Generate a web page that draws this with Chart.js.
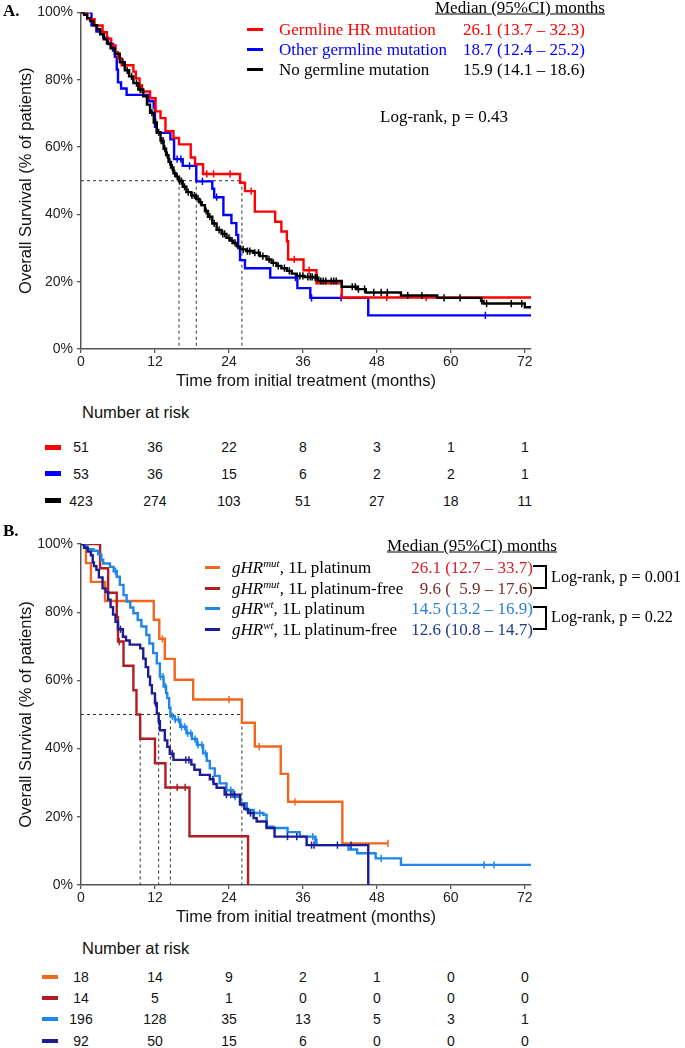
<!DOCTYPE html>
<html><head><meta charset="utf-8">
<script src="https://cdn.jsdelivr.net/npm/chart.js@4.4.1/dist/chart.umd.min.js"></script>
<style>
html,body{margin:0;padding:0;background:#fff;}
#wrap{position:relative;width:685px;height:1048px;overflow:hidden;background:#fff;}
canvas{position:absolute;left:0;}
.t{position:absolute;white-space:pre;line-height:1;}
.serif{font-family:"Liberation Serif","Times New Roman",serif;font-size:17px;color:#000;}
.sans{font-family:"Liberation Sans",Arial,sans-serif;color:#111;}
.sup{font-size:11px;position:relative;top:-6px;font-style:italic;}
</style></head>
<body><div id="wrap">
<canvas id="cA" width="685" height="399" style="top:0px"></canvas>
<canvas id="cB" width="685" height="415" style="top:520px"></canvas>
</div>
<script>
// ---------- data ----------
const xTicks = [0, 12, 24, 36, 48, 60, 72];
const yTicks = [0, 20, 40, 60, 80, 100];
const riskTimes = [0, 12, 24, 36, 48, 60, 72];

// Panel A
const labelsA = ['Germline HR mutation', 'Other germline mutation', 'No germline mutation'];
const mediansA = [26.1, 18.7, 15.9];
const mediansTextA = ['26.1 (13.7 \u2013 32.3)', '18.7 (12.4 \u2013 25.2)', '15.9 (14.1 \u2013 18.6)'];
const colorsA = ['#ff0000', '#0000ff', '#000000'];
const pA = 'Log-rank, p = 0.43';

const aRedT = [0,1.0,2.2,3.5,4.2,4.9,5.6,6.0,6.6,8.5,8.9,9.5,9.9,11.2,12.1,12.9,13.7,15.0,15.9,17.8,18.5,19.8,25.8,26.6,28.2,31.5,32.5,33.4,33.6,36.1,38.2,42.3,73];
const aRedS = [100,98.0,96.1,94.1,92.2,90.2,88.2,86.3,84.3,82.4,80.4,78.4,76.5,74.5,70.6,68.6,64.7,62.7,60.8,56.9,54.9,52.0,49.4,46.9,40.8,37.8,34.9,32.0,26.6,23.4,19.5,15.3,15.3];
const aRedC = [20.4,21.5,24.2,27.6,34.6,37.0,49.6,56.0];

const aBlueT = [0,1.7,2.5,3.6,4.4,5.2,5.5,5.8,6.0,6.5,7.4,11.0,11.8,12.0,12.3,14.5,15.1,16.5,18.7,21.3,21.6,23.1,24.4,25.2,25.5,25.8,26.6,30.7,35.1,37.2,46.6,73];
const aBlueS = [100,96.2,94.3,92.5,90.6,88.7,86.8,83.0,79.2,77.4,75.5,73.6,71.7,66.0,64.2,62.3,56.4,54.4,49.8,47.6,45.1,39.8,37.4,33.9,30.0,26.4,24.0,21.2,18.1,15.2,10.0,10.0];
const aBlueC = [15.6,16.2,17.6,19.7,22.0,34.8,37.4,42.2,65.6];

const aBlackT = [0,0.5,1.0,1.5,2.0,2.6,3.1,3.7,4.2,4.8,5.5,6.3,7.1,7.8,8.5,9.3,10.1,10.7,11.2,11.8,12.3,12.9,13.4,13.8,14.2,14.6,15.0,15.4,15.9,16.5,17.1,17.9,18.7,19.2,19.6,20.1,20.6,21.3,22.0,22.8,23.6,24.2,24.7,25.3,25.8,26.8,27.9,29.0,30.1,30.9,31.7,32.5,33.4,34.2,35.0,36.3,37.7,38.5,42.3,44.8,46.2,51.9,57.8,64.9,65.3,72.0,73];
const aBlackS = [100,99.3,98.3,97.4,96.2,95.0,93.5,92.0,90.8,89.3,87.7,85.2,82.8,81.0,79.0,77.1,75.1,72.6,70.2,67.3,64.4,61.9,59.5,57.6,55.6,53.9,52.2,51.2,49.9,48.2,46.6,45.6,44.6,43.6,42.7,41.0,39.3,37.3,35.4,34.2,33.0,32.2,31.5,30.5,29.6,29.1,28.6,27.6,26.6,25.6,24.7,24.0,23.2,22.4,21.7,21.4,21.2,20.2,18.5,17.8,16.8,15.9,15.2,14.3,13.5,12.4,12.4];
const aBlackC = [6.8,7.5,8.2,9.0,9.6,11.5,12.1,12.6,13.0,13.3,13.6,14.0,14.4,14.8,15.2,15.6,16.0,16.3,16.8,17.4,18.0,18.4,19.0,19.4,20.3,20.9,21.6,22.4,23.0,23.3,24.0,24.5,25.0,26.3,27.0,27.4,28.2,28.8,29.5,30.5,31.2,32.0,33.0,33.8,35.5,36.0,36.8,37.2,37.5,38.0,38.3,38.9,39.3,39.7,40.6,41.0,41.4,44.0,44.5,45.0,46.0,47.5,48.7,49.7,53.0,55.3,58.9,61.5,65.0,65.8,69.8,71.5];

const riskA = [[51,36,22,8,3,1,1],[53,36,15,6,2,2,1],[423,274,103,51,27,18,11]];

// Panel B
const groupB = ['mut', 'mut', 'wt', 'wt'];
const regimenB = ['1L platinum', '1L platinum-free', '1L platinum', '1L platinum-free'];
const mediansB = [26.1, 9.6, 14.5, 12.6];
const mediansTextB = ['26.1 (12.7 \u2013 33.7)', '9.6 (  5.9 \u2013 17.6)', '14.5 (13.2 \u2013 16.9)', '12.6 (10.8 \u2013 14.7)'];
const colorsB = ['#f0671f', '#b11d22', '#2087e8', '#1c1c94'];
const medColorsB = ['#d41f26', '#7d2a25', '#2a80d2', '#1f3a88'];
const pB = ['Log-rank, p = 0.001', 'Log-rank, p = 0.22'];

const bOrT = [0,0.8,1.6,3.9,11.8,12.7,13.6,15.2,18.2,26.1,28.2,32.4,33.6,42.4,49.8];
const bOrS = [100,94.4,88.9,83.3,77.8,72.2,66.3,60.2,54.4,47.6,40.6,32.6,24.4,12.2,12.2];
const bOrC = [13.2,24.0,28.9,34.7,49.8];

const bDrT = [0,3.1,4.4,5.8,6.0,6.9,8.5,9.0,9.6,12.0,13.7,17.6,27.1];
const bDrS = [100,92.9,85.7,78.6,71.4,64.3,57.1,50.0,42.9,35.7,28.6,14.3,0];
const bDrC = [6.2,15.6,16.9];

const bLbT = [0,0.6,1.0,2.0,2.8,3.3,3.6,4.7,5.3,5.8,6.3,6.9,7.4,8.0,8.5,9.2,9.8,10.6,11.1,11.7,12.3,12.8,13.4,13.8,14.0,14.3,14.5,15.2,16.1,17.1,18.0,18.8,19.8,20.4,20.9,21.7,22.5,23.6,24.7,25.8,26.9,28.0,29.6,30.1,31.2,33.5,35.5,38.0,38.2,43.4,44.8,47.8,51.9,73];
const bLbS = [100,99.5,98.5,98.0,96.9,95.4,94.3,93.3,92.0,90.4,88.0,85.0,83.1,81.4,79.7,77.7,75.8,73.3,70.8,68.0,65.0,61.1,58.2,56.3,54.8,52.0,49.5,48.5,46.4,44.5,42.8,41.1,38.6,36.4,34.2,32.0,29.8,27.8,25.9,24.0,22.0,21.1,20.6,17.1,16.7,15.5,14.2,13.2,11.7,10.4,9.3,7.8,5.9,5.9];
const bLbC = [5.6,12.9,13.3,13.7,14.8,15.3,15.8,16.3,16.8,17.3,17.8,18.5,19.0,19.6,20.2,24.3,25.0,28.0,29.0,37.6,38.1,48.7,65.4,67.0];

const bNvT = [0,0.5,1.1,1.6,1.9,2.1,2.5,2.9,3.5,4.0,4.4,4.8,5.2,5.6,6.0,6.8,7.3,7.9,9.6,10.1,10.5,10.9,11.2,11.5,12.0,12.3,12.6,12.8,13.6,14.0,14.4,15.0,17.9,18.4,19.3,20.9,21.5,22.0,23.3,25.8,26.5,27.1,28.0,28.5,30.1,31.4,36.6,46.6];
const bNvS = [100,98.9,97.8,96.7,94.6,93.5,92.4,90.2,87.0,85.9,83.7,81.5,79.3,77.2,75.0,72.8,71.7,70.5,69.4,66.4,63.9,61.1,58.6,56.2,53.3,50.3,48.0,45.4,42.4,40.5,38.5,36.7,35.3,33.8,32.3,31.0,29.6,28.5,26.5,23.6,22.3,21.1,19.6,18.6,16.7,14.2,11.7,0];
const bNvC = [6.4,12.1,12.6,14.8,17.0,17.5,21.4,23.6,24.3,24.9,27.5,33.5,35.0,37.4,37.8,41.6,43.8];

const riskB = [[18,14,9,2,1,0,0],[14,5,1,0,0,0,0],[196,128,35,13,5,3,1],[92,50,15,6,0,0,0]];

// ---------- helpers ----------
const SANS = '"Liberation Sans", Arial, sans-serif';
function stepPts(T, S) { return T.map((t, i) => ({x: t, y: S[i]})); }
function survAt(T, S, t) { let v = S[0]; for (let i = 0; i < T.length; i++) { if (T[i] <= t) v = S[i]; else break; } return v; }
function censPts(T, S, C) { return C.map(t => ({x: t, y: survAt(T, S, t)})); }

function makeChart(id, curves, meds, padTop) {
  const ds = [];
  curves.forEach(c => {
    ds.push({data: censPts(c.T, c.S, c.C), showLine: false, pointStyle: 'line', pointRadius: 3.6,
      pointRotation: 90, pointBorderWidth: 1.5, pointBorderColor: c.color, borderColor: c.color});
    ds.push({data: stepPts(c.T, c.S), stepped: 'before', borderColor: c.color, borderWidth: 2.4,
      pointRadius: 0, fill: false});
  });
  const mMax = Math.max(...meds);
  const dash = {borderColor: '#333', borderWidth: 1, borderDash: [3, 3], pointRadius: 0, fill: false};
  ds.push(Object.assign({data: [{x: 0, y: 50}, {x: mMax, y: 50}]}, dash));
  meds.forEach(m => ds.push(Object.assign({data: [{x: m, y: 50}, {x: m, y: 0}]}, dash)));
  return new Chart(document.getElementById(id), {
    type: 'line',
    data: {datasets: ds},
    options: {
      responsive: false, animation: false, devicePixelRatio: 1, events: [],
      layout: {padding: {top: padTop, right: 154, left: 0, bottom: 0}},
      plugins: {legend: {display: false}, tooltip: {enabled: false}},
      scales: {
        x: {type: 'linear', min: 0, max: 73,
          afterBuildTicks: s => { s.ticks = xTicks.map(v => ({value: v})); },
          afterFit: s => { s.height = 50; },
          grid: {display: true, drawOnChartArea: false, drawTicks: true, tickLength: 4, color: '#555', lineWidth: 1.3},
          border: {display: true, color: '#555', width: 1.5},
          ticks: {font: {family: SANS, size: 14}, color: '#222', padding: 1, maxRotation: 0, autoSkip: false},
          title: {display: true, text: 'Time from initial treatment (months)', font: {family: SANS, size: 16.5}, color: '#111', padding: {top: 0, bottom: 8}}
        },
        y: {type: 'linear', min: 0, max: 100,
          afterBuildTicks: s => { s.ticks = yTicks.map(v => ({value: v})); },
          afterFit: s => { s.width = 81; },
          grid: {display: true, drawOnChartArea: false, drawTicks: true, tickLength: 4, color: '#555', lineWidth: 1.3},
          border: {display: true, color: '#555', width: 1.5},
          ticks: {font: {family: SANS, size: 14}, color: '#222', padding: 4, callback: v => v + '%'},
          title: {display: true, text: 'Overall Survival (% of patients)', font: {family: SANS, size: 16.5}, color: '#111', padding: {top: 17, bottom: 0}}
        }
      }
    }
  });
}

const wrap = document.getElementById('wrap');
function addText(html, x, cy, cls, align, color) {
  const d = document.createElement('div');
  d.className = 't ' + cls;
  d.innerHTML = html;
  d.style.left = x + 'px';
  d.style.top = cy + 'px';
  const tx = align === 'center' ? '-50%' : (align === 'right' ? '-100%' : '0');
  d.style.transform = 'translate(' + tx + ',-50%)';
  if (color) d.style.color = color;
  wrap.appendChild(d);
  return d;
}
function addBox(x, y, w, h, css) {
  const d = document.createElement('div');
  d.style.position = 'absolute';
  d.style.left = x + 'px'; d.style.top = y + 'px';
  d.style.width = w + 'px'; d.style.height = h + 'px';
  Object.assign(d.style, css);
  wrap.appendChild(d);
}

// ---------- Panel A ----------
const chartA = makeChart('cA', [
  {T: aBlackT, S: aBlackS, C: aBlackC, color: colorsA[2]},
  {T: aRedT, S: aRedS, C: aRedC, color: colorsA[0]},
  {T: aBlueT, S: aBlueS, C: aBlueC, color: colorsA[1]}
], mediansA, 8);

addText('A.', 3, 10, 'serif', 'left').style.fontWeight = 'bold';
addText('<span style="text-decoration:underline">Median (95%CI) months</span>', 435, 7, 'serif', 'left');
labelsA.forEach((lab, i) => {
  const cy = 29 + i * 20;
  addBox(247, cy - 1.5, 16, 3, {background: colorsA[i]});
  addText(lab, 279, cy - 0.5, 'serif', 'left', colorsA[i]);
  addText(mediansTextA[i], 463, cy - 0.5, 'serif', 'left', colorsA[i]);
});
addText(pA, 380, 116, 'serif', 'left');

addText('Number at risk', 82, 412, 'sans', 'left').style.fontSize = '16.5px';
riskA.forEach((row, r) => {
  const cy = 447 + r * 26.8;
  addBox(45, cy - 2.5, 16, 5, {background: colorsA[r]});
  row.forEach((n, j) => {
    const px = chartA.scales.x.getPixelForValue(riskTimes[j]);
    addText(String(n), px, cy, 'sans', 'center').style.fontSize = '14px';
  });
});

// ---------- Panel B ----------
const chartB = makeChart('cB', [
  {T: bNvT, S: bNvS, C: bNvC, color: colorsB[3]},
  {T: bLbT, S: bLbS, C: bLbC, color: colorsB[2]},
  {T: bDrT, S: bDrS, C: bDrC, color: colorsB[1]},
  {T: bOrT, S: bOrS, C: bOrC, color: colorsB[0]}
], mediansB, 24);

addText('B.', 3, 530, 'serif', 'left').style.fontWeight = 'bold';
addText('<span style="text-decoration:underline">Median (95%CI) months</span>', 387, 545, 'serif', 'left');
groupB.forEach((g, i) => {
  const cy = 567.5 + i * 20.5;
  addBox(205, cy - 1.5, 15, 3, {background: colorsB[i]});
  addText('<i>gHR</i><span class="sup">' + g + '</span>, ' + regimenB[i], 232, cy - 0.5, 'serif', 'left');
  addText(mediansTextB[i], 533, cy - 0.5, 'serif', 'right', medColorsB[i]);
});
// brackets
addBox(533, 565.5, 12, 20.5, {borderTop: '2px solid #000', borderRight: '2px solid #000', borderBottom: '2px solid #000', boxSizing: 'content-box', marginTop: '-1px'});
addBox(533, 606.5, 12, 20.5, {borderTop: '2px solid #000', borderRight: '2px solid #000', borderBottom: '2px solid #000', boxSizing: 'content-box', marginTop: '-1px'});
addText(pB[0], 551, 576.5, 'serif', 'left').style.fontSize = '16.2px';
addText(pB[1], 551, 617, 'serif', 'left').style.fontSize = '16.2px';

addText('Number at risk', 82, 948, 'sans', 'left').style.fontSize = '16.5px';
riskB.forEach((row, r) => {
  const cy = 977 + r * 21.2;
  addBox(42, cy - 2, 16, 4, {background: colorsB[r]});
  row.forEach((n, j) => {
    const px = chartB.scales.x.getPixelForValue(riskTimes[j]);
    addText(String(n), px, cy, 'sans', 'center').style.fontSize = '14px';
  });
});
</script>
</body></html>
